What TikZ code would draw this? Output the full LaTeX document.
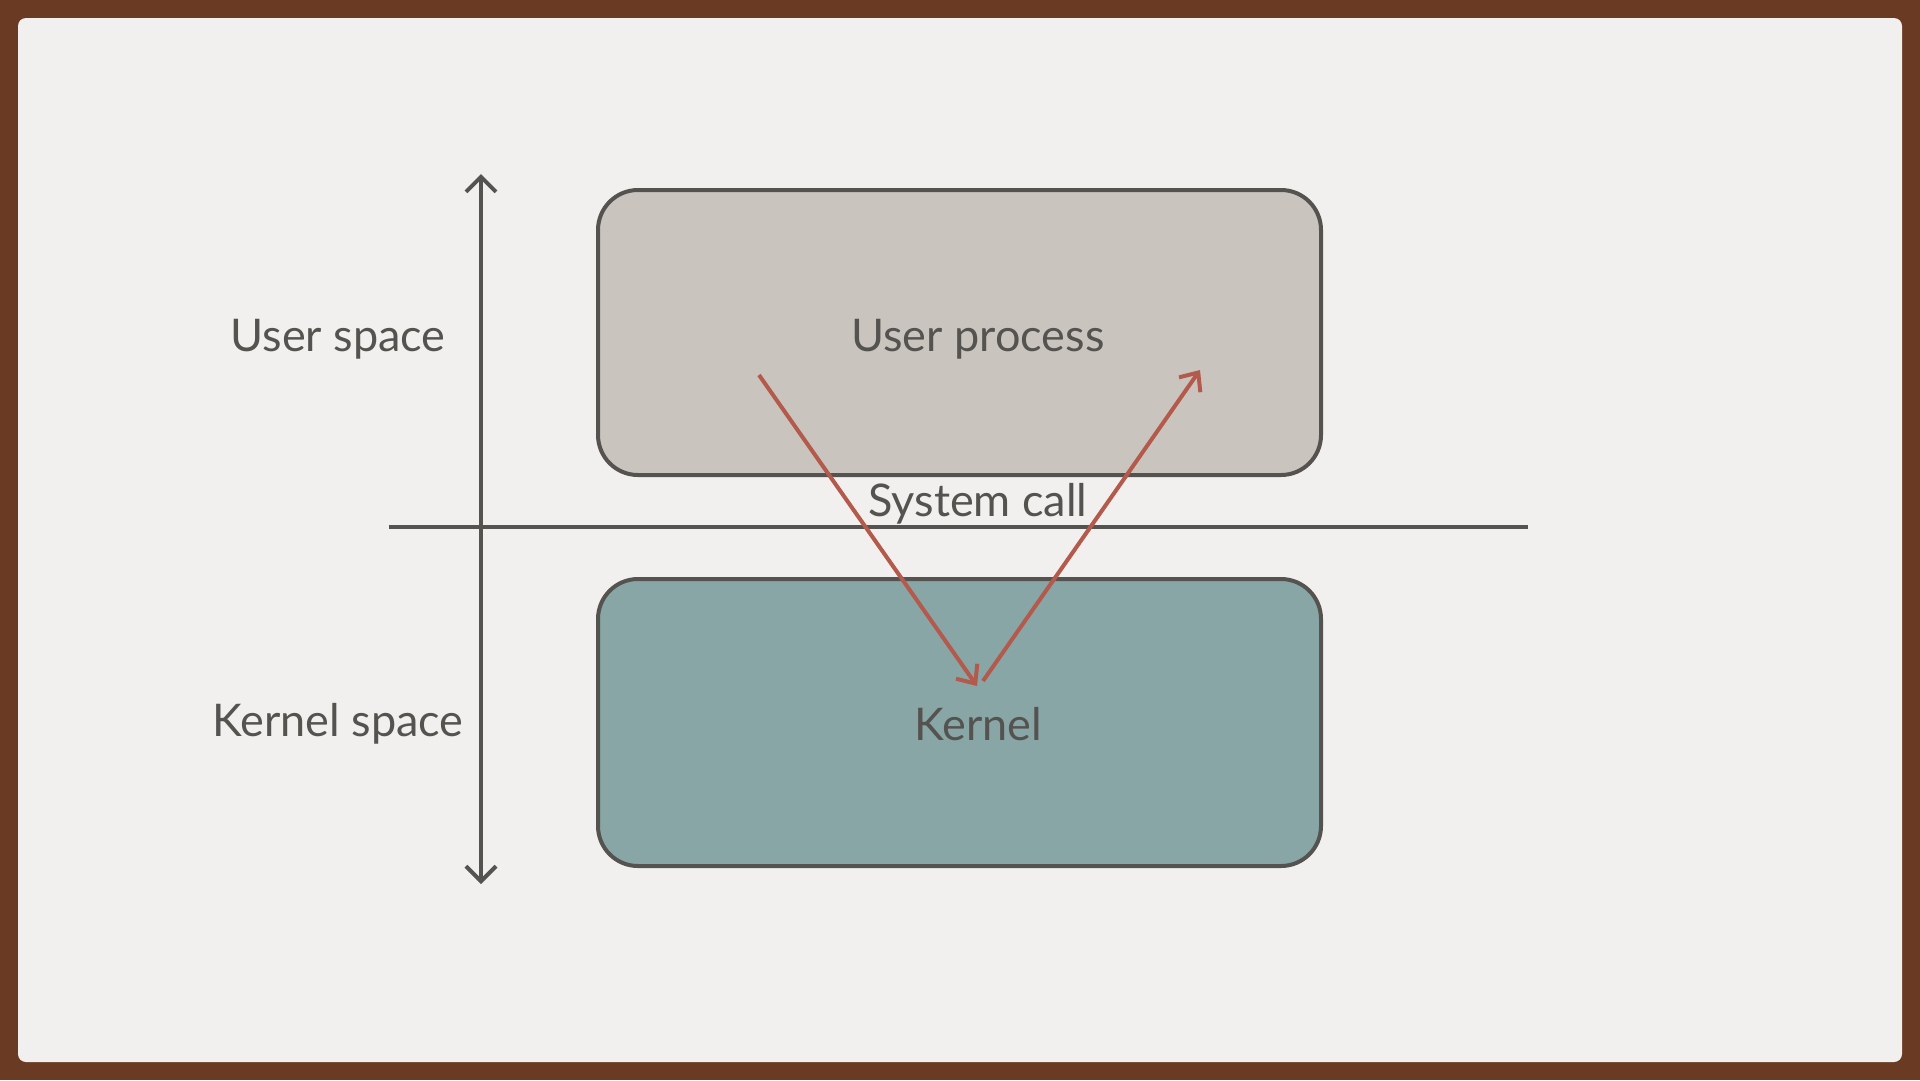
\documentclass[tikz,border=0pt]{standalone}
\usepackage{fontspec}
\setmainfont{Lato}
\usetikzlibrary{arrows.meta}
\definecolor{brownbg}{HTML}{6A3A22}
\definecolor{paper}{HTML}{F1F0EE}
\definecolor{userfill}{HTML}{C9C5BE}
\definecolor{kernfill}{HTML}{88A6A6}
\definecolor{ink}{HTML}{555350}
\definecolor{redarrow}{HTML}{B35A4C}
\tikzset{
  box/.style={draw=ink, line width=4pt, rounded corners=40pt, inner sep=0pt},
  lbl/.style={text=ink, font=\fontsize{45}{50}\selectfont, inner sep=0pt},
  callarrow/.style={draw=redarrow, line width=4pt, -{Straight Barb[length=15pt,width=26pt,line width=4pt]}},
  spanarrow/.style={draw=ink, line width=4pt, {Straight Barb[length=15pt,width=30pt,line width=4pt]}-{Straight Barb[length=15pt,width=30pt,line width=4pt]}}
}
\begin{document}
\begin{tikzpicture}[x=1pt,y=-1pt]
\useasboundingbox (0,0) rectangle (1920,1080);
\fill[brownbg] (0,0) rectangle (1920,1080);
\fill[paper, rounded corners=8pt] (18,18) rectangle (1902,1062);
% boxes
\draw[box, fill=userfill] (598,190) rectangle (1321,475);
\draw[box, fill=kernfill] (598,579) rectangle (1321,866);
\node[lbl] (up) at (978,339) {User process};
\node[lbl] (kn) at (978,724) {Kernel};
\node[lbl] (us) at (338,339) {User space};
\node[lbl] (ks) at (338,724) {Kernel space};
\node[lbl] (sc) at (978,504) {System call};
% divider
\coordinate (hl) at (389,527);
\coordinate (hr) at (1528,527);
\draw[ink, line width=3.5pt] (hl) -- (hr);
% span arrow
\coordinate (vt) at (481,174);
\coordinate (vb) at (481,884);
\draw[spanarrow] (vt) -- (vb);
% system call arrows
\coordinate (a1) at (759,375);
\coordinate (a2) at (977,686);
\coordinate (b1) at (983,681);
\coordinate (b2) at (1200,370);
\draw[callarrow] (a1) -- (a2);
\draw[callarrow] (b1) -- (b2);
\end{tikzpicture}
\end{document}
